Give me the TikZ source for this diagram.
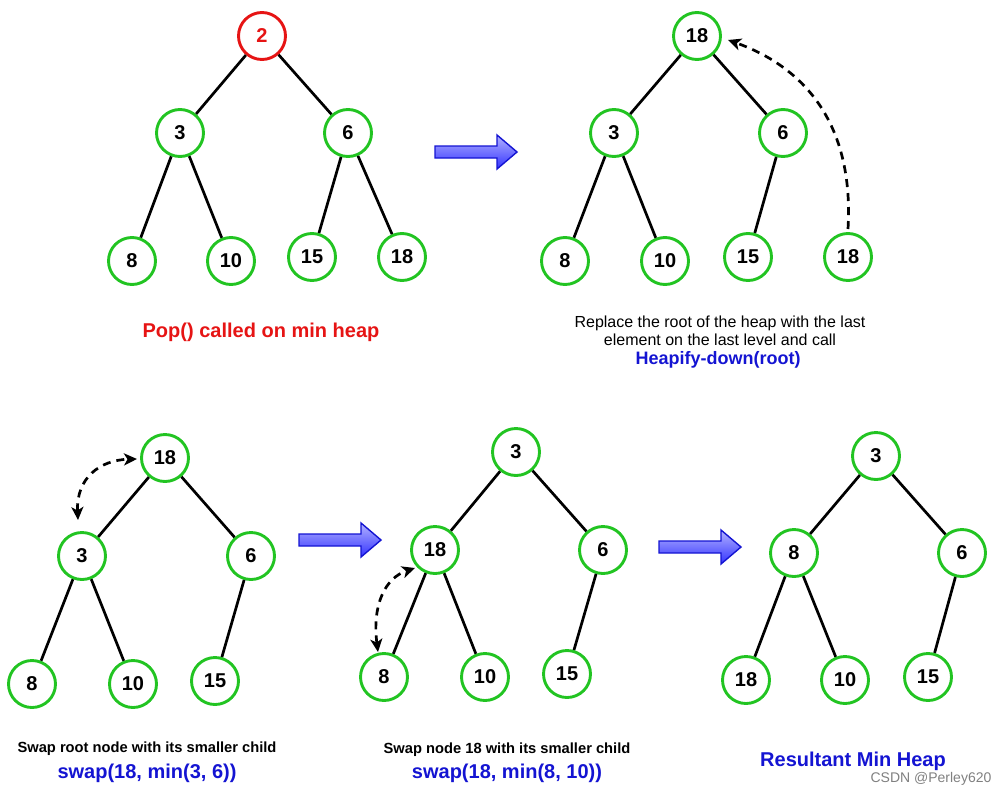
\documentclass[tikz,border=0pt]{standalone}
\usepackage{fontspec}
\setmainfont{Liberation Sans}
\usetikzlibrary{arrows.meta}
\definecolor{hgreen}{RGB}{34,196,34}
\definecolor{hred}{RGB}{230,20,20}
\definecolor{hblue}{RGB}{20,20,210}
\tikzset{
  hn/.style={circle,draw=hgreen,line width=2.9pt,minimum size=47pt,inner sep=0pt,fill=white,font=\fontsize{20}{20}\selectfont\bfseries},
  rn/.style={hn,draw=hred,text=hred},
  ed/.style={line width=2.7pt,black},
  da/.style={line width=2.7pt,dash pattern=on 8pt off 6pt,-{Stealth[length=13pt,width=12pt,inset=3.5pt]}},
  dda/.style={da,{Stealth[length=13pt,width=12pt,inset=3.5pt]}-{Stealth[length=13pt,width=12pt,inset=3.5pt]}},
  barrow/.style={draw=hblue,line width=1.4pt,top color=blue!30!white,bottom color=blue!80!white,shading angle=0},
  capt/.style={font=\fontsize{20}{22}\selectfont\bfseries,align=center},
  smalltxt/.style={font=\fontsize{16}{18}\selectfont,align=center},
}
\newcommand{\blockarrow}[3]{% x, y, name
  \path[barrow] (#1,#2-6) -- (#1+62,#2-6) -- (#1+62,#2-17) -- (#1+82,#2) -- (#1+62,#2+17) -- (#1+62,#2+6) -- (#1,#2+6) -- cycle;
}
\begin{document}
\begin{tikzpicture}[x=1pt,y=-1pt]
\useasboundingbox (0,0) rectangle (1006,798);
% Tree 1
\node[rn] (a1) at (262,36) {2};
\node[hn] (a2) at (180,133) {3};
\node[hn] (a3) at (348,133) {6};
\node[hn] (a4) at (132,261) {8};
\node[hn] (a5) at (231,261) {10};
\node[hn] (a6) at (312,257) {15};
\node[hn] (a7) at (402,257) {18};
\draw[ed] (a1)--(a2) (a1)--(a3) (a2)--(a4) (a2)--(a5) (a3)--(a6) (a3)--(a7);
\node[capt,text=hred] (t1) at (261,332) {Pop() called on min heap};
% arrow 1
\blockarrow{435}{152}{ar1}
% Tree 2
\node[hn] (b1) at (697,36) {18};
\node[hn] (b2) at (614,133) {3};
\node[hn] (b3) at (783,133) {6};
\node[hn] (b4) at (565,261) {8};
\node[hn] (b5) at (665,261) {10};
\node[hn] (b6) at (748,257) {15};
\node[hn] (b7) at (848,257) {18};
\draw[ed] (b1)--(b2) (b1)--(b3) (b2)--(b4) (b2)--(b5) (b3)--(b6);
\coordinate (b7s) at (848,229);
\coordinate (b1e) at (728,40);
\draw[da] (b7s) .. controls (855,110) and (790,62) .. (b1e);
\node[smalltxt] (t2) at (720,331) {Replace the root of the heap with the last\\element on the last level and call};
\node[capt,text=hblue,font=\fontsize{18}{20}\selectfont\bfseries] (t3) at (718,360) {Heapify-down(root)};
% Tree 3
\node[hn] (c1) at (165,458) {18};
\node[hn] (c2) at (82,556) {3};
\node[hn] (c3) at (251,556) {6};
\node[hn] (c4) at (32,684) {8};
\node[hn] (c5) at (133,684) {10};
\node[hn] (c6) at (215,681) {15};
\draw[ed] (c1)--(c2) (c1)--(c3) (c2)--(c4) (c2)--(c5) (c3)--(c6);
\coordinate (c1w) at (137,459);
\coordinate (c2n) at (78,520);
\draw[dda] (c2n) .. controls (76,478) and (100,460) .. (c1w);
\node[capt,font=\fontsize{14.7}{16}\selectfont\bfseries] (t4) at (147,749) {Swap root node with its smaller child};
\node[capt,text=hblue] (t5) at (147,773) {swap(18, min(3, 6))};
% arrow 2
\blockarrow{299}{540}{ar2}
% Tree 4
\node[hn] (d1) at (516,452) {3};
\node[hn] (d2) at (435,550) {18};
\node[hn] (d3) at (603,550) {6};
\node[hn] (d4) at (384,677) {8};
\node[hn] (d5) at (485,677) {10};
\node[hn] (d6) at (567,674) {15};
\draw[ed] (d1)--(d2) (d1)--(d3) (d2)--(d4) (d2)--(d5) (d3)--(d6);
\coordinate (d2w) at (415,568);
\coordinate (d4n) at (378,652);
\draw[dda] (d4n) .. controls (372,605) and (385,578) .. (d2w);
\node[capt,font=\fontsize{14.7}{16}\selectfont\bfseries] (t6) at (507,750) {Swap node 18 with its smaller child};
\node[capt,text=hblue] (t7) at (507,773) {swap(18, min(8, 10))};
% arrow 3
\blockarrow{659}{547}{ar3}
% Tree 5
\node[hn] (e1) at (876,456) {3};
\node[hn] (e2) at (794,553) {8};
\node[hn] (e3) at (962,553) {6};
\node[hn] (e4) at (746,680) {18};
\node[hn] (e5) at (845,680) {10};
\node[hn] (e6) at (928,677) {15};
\draw[ed] (e1)--(e2) (e1)--(e3) (e2)--(e4) (e2)--(e5) (e3)--(e6);
\node[capt,text=hblue] (t8) at (853,761) {Resultant Min Heap};
\node[font=\fontsize{14}{16}\selectfont,text=gray] (t9) at (931,779) {CSDN @Perley620};
\end{tikzpicture}
\end{document}
